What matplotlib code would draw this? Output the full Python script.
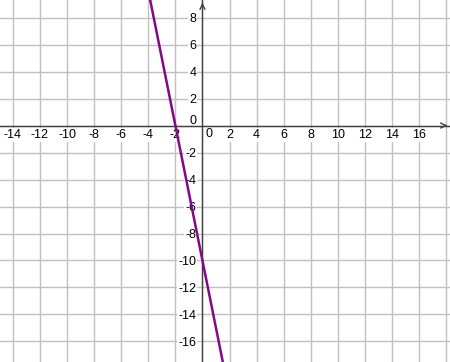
import matplotlib
matplotlib.use("Agg")
import matplotlib.pyplot as plt
import numpy as np

# Data
x_ticks = [-14, -12, -10, -8, -6, -4, -2, 0, 2, 4, 6, 8, 10, 12, 14, 16]
y_ticks = [-16, -14, -12, -10, -8, -6, -4, -2, 0, 2, 4, 6, 8]
# two points on the line y = -5x - 10
line_x = [-2, 0]
line_y = [0, -10]

X_MIN, X_MAX = -14.95, 18.28
Y_MIN, Y_MAX = -17.52, 9.30

plt.rcParams['font.family'] = ['Liberation Sans', 'DejaVu Sans']

fig = plt.figure(figsize=(4.5, 3.62), dpi=100)
ax = fig.add_axes([0, 0, 1, 1])
ax.set_xlim(X_MIN, X_MAX)
ax.set_ylim(Y_MIN, Y_MAX)
for s in ax.spines.values():
    s.set_visible(False)
ax.set_xticks([])
ax.set_yticks([])

grid_c = '#c0c0c0'
for gx in np.arange(-14, 19, 2):
    ax.axvline(gx, color=grid_c, lw=1.0, zorder=1)
for gy in np.arange(-16, 10, 2):
    ax.axhline(gy, color=grid_c, lw=1.0, zorder=1)

axis_c = '#404040'
ax.axhline(0, color=axis_c, lw=1.0, zorder=2)
ax.axvline(0, color=axis_c, lw=1.0, zorder=2)

# arrow heads
ax.annotate('', xy=(X_MAX, 0), xytext=(X_MAX - 0.6, 0),
            arrowprops=dict(arrowstyle='->', color=axis_c, lw=1.0,
                            mutation_scale=9), zorder=3)
ax.annotate('', xy=(0, Y_MAX), xytext=(0, Y_MAX - 0.6),
            arrowprops=dict(arrowstyle='->', color=axis_c, lw=1.0,
                            mutation_scale=9), zorder=3)

# tick labels
fs = 9
bb = dict(facecolor='white', edgecolor='none', pad=0.8)
for t in x_ticks:
    if t == 0:
        ax.text(0.22, -0.65, '0', ha='left', va='center', fontsize=fs, color='black')
    else:
        ax.text(t, -0.72, str(t), ha='center', va='center', fontsize=fs, color='black',
                bbox=bb, zorder=2.5)
for t in y_ticks:
    if t == 0:
        ax.text(-0.45, 0.35, '0', ha='right', va='center', fontsize=fs, color='black')
    else:
        ax.text(-0.45, t - 0.1, str(t), ha='right', va='center', fontsize=fs, color='black',
                bbox=bb, zorder=2.5)

# line
ax.axline((line_x[0], line_y[0]), (line_x[1], line_y[1]), color='#860886', lw=1.8, zorder=4)

fig.savefig('out.png', dpi=100)
